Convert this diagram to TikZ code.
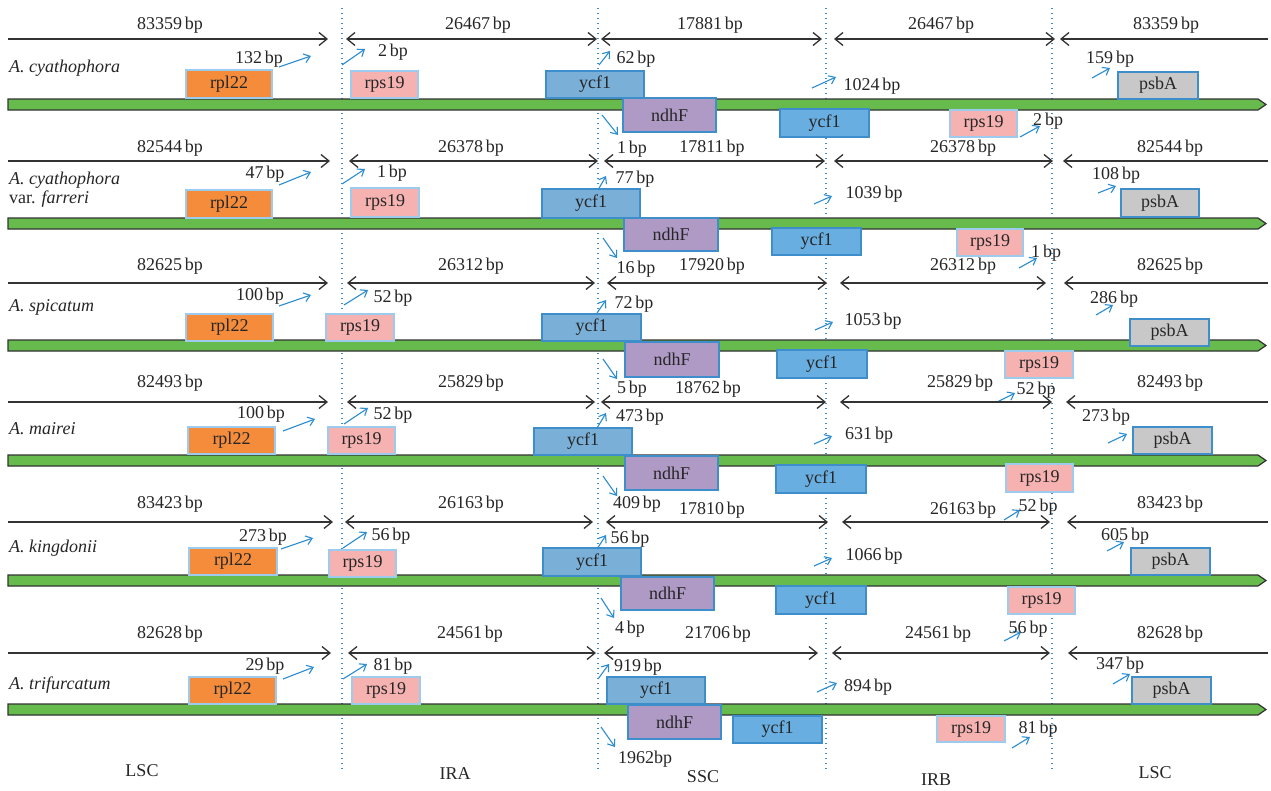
\documentclass[tikz,border=0pt]{standalone}
\usepackage{fontspec}
\setmainfont{Liberation Serif}
\usetikzlibrary{arrows.meta}
\definecolor{barg}{HTML}{66BB4C}
\definecolor{barline}{HTML}{333333}
\definecolor{orng}{HTML}{F58C3C}
\definecolor{pnk}{HTML}{F5B2B1}
\definecolor{ycfa}{HTML}{7AAFD7}
\definecolor{ycfb}{HTML}{69AEE0}
\definecolor{purp}{HTML}{AF9AC6}
\definecolor{gry}{HTML}{C8C8C8}
\definecolor{edgeA}{HTML}{9DCBEE}
\definecolor{edgeB}{HTML}{3D8ECB}
\definecolor{annblue}{HTML}{2B8CCF}
\definecolor{dotc}{HTML}{3D8ECB}
\newcommand\gn[7]{\node[gene,#2,minimum width={((#5)-(#3))*1pt},minimum height={((#6)-(#4))*1pt}] (#1) at ({((#3)+(#5))/2},{((#4)+(#6))/2}) {#7};}
\newcommand\seg[8]{\coordinate (#1a) at (#2,#4); \coordinate (#1b) at (#3,#4); \draw[segline,#5] (#1a) -- (#1b); \node[lbl] (#1l) at (#6,#7) {#8};}
\newcommand\ann[8]{\coordinate (#1s) at (#2,#3); \coordinate (#1e) at (#4,#5); \draw[annarrow] (#1s) -- (#1e); \node[lbl] (#1t) at (#6,#7) {#8};}
\newcommand\gbar[2]{\path[fill=barg,draw=barline,line width=1.2pt] (8,#2) -- (1258,#2) -- (1266,{#2+5.5}) -- (1258,{#2+11}) -- (8,{#2+11}) -- cycle; \coordinate (#1) at (8,#2);}
\begin{document}
\begin{tikzpicture}[x=1pt,y=-1pt,
  lbl/.style={inner sep=0pt,outer sep=0pt,font=\fontsize{18}{21}\selectfont,text=black!85},
  spname/.style={inner sep=0pt,anchor=west,font=\fontsize{18}{19}\selectfont,align=left,text=black!85},
  gene/.style={draw,line width=1.2pt,inner sep=0pt,outer sep=0pt,font=\fontsize{18}{20}\selectfont,text=black!85},
  grpl/.style={fill=orng,draw=edgeA},
  grps/.style={fill=pnk,draw=edgeA},
  gycfa/.style={fill=ycfa,draw=edgeB},
  gycfb/.style={fill=ycfb,draw=edgeB},
  gndh/.style={fill=purp,draw=edgeB},
  gpsb/.style={fill=gry,draw=edgeB},
  segline/.style={draw=barline,line width=1.3pt},
  tipR/.style={-{Straight Barb[length=8pt,width=13pt,line width=1.3pt]}},
  tipB/.style={{Straight Barb[length=8pt,width=13pt,line width=1.3pt]}-{Straight Barb[length=8pt,width=13pt,line width=1.3pt]}},
  tipL/.style={{Straight Barb[length=8pt,width=13pt,line width=1.3pt]}-},
  annarrow/.style={draw=annblue,line width=1.1pt,-{Straight Barb[length=6pt,width=9pt,line width=1.1pt]}},
  dotline/.style={draw=dotc,line width=1.3pt,dash pattern=on 1.3pt off 3.7pt}
]
\useasboundingbox[fill=white] (0,0) rectangle (1271,790);
% region dividers
\foreach \x/\n in {342/d1,598/d2,826/d3,1052/d4}{
  \coordinate (\n t) at (\x,8); \coordinate (\n b) at (\x,770);
  \draw[dotline] (\n t) -- (\n b);
}
% ================= Row 1
\gbar{bar1}{99}
\seg{s11}{8}{328}{39}{tipR}{170}{25}{83359\,bp}
\seg{s12}{346}{597}{39}{tipB}{478}{25}{26467\,bp}
\seg{s13}{601}{822}{39}{tipB}{710}{25}{17881\,bp}
\seg{s14}{834}{1055}{39}{tipB}{941}{25}{26467\,bp}
\seg{s15}{1268}{1060}{39}{tipR}{1166}{25}{83359\,bp}
\node[spname] (n1) at (9,68) {\textit{A. cyathophora}};
\gn{g11}{grpl}{186}{70}{272}{98}{rpl22}
\gn{g12}{grps}{351}{71}{418}{98}{rps19}
\gn{g13}{gycfa}{546}{71}{644}{98}{ycf1}
\gn{g14}{gndh}{623}{98}{716}{132}{ndhF}
\gn{g15}{gycfb}{780}{109}{869}{137}{ycf1}
\gn{g16}{grps}{950}{110}{1017}{137}{rps19}
\gn{g17}{gpsb}{1118}{72}{1198}{99}{psbA}
\ann{a11}{279}{67}{311}{56}{259}{59}{132\,bp}
\ann{a12}{342}{65}{365}{49}{393}{52}{2\,bp}
\ann{a13}{599}{65}{610}{51}{636}{59}{62\,bp}
\ann{a14}{602}{115}{618}{135}{632}{149}{1\,bp}
\ann{a15}{812}{88}{836}{77}{872}{86}{1024\,bp}
\ann{a16}{1020}{137}{1040}{126}{1048}{121}{2\,bp}
\ann{a17}{1092}{78}{1110}{68}{1110}{59}{159\,bp}
% ================= Row 2
\gbar{bar2}{218}
\seg{s21}{8}{330}{161}{tipR}{170}{148}{82544\,bp}
\seg{s22}{349}{598}{161}{tipB}{471}{148}{26378\,bp}
\seg{s23}{604}{825}{161}{tipB}{712}{148}{17811\,bp}
\seg{s24}{834}{1053}{161}{tipB}{963}{148}{26378\,bp}
\seg{s25}{1268}{1063}{161}{tipR}{1170}{148}{82544\,bp}
\node[spname] (n2) at (9,190) {\textit{A. cyathophora}\\var. \textit{farreri}};
\gn{g21}{grpl}{186}{190}{272}{218}{rpl22}
\gn{g22}{grps}{351}{188}{419}{217}{rps19}
\gn{g23}{gycfa}{542}{189}{640}{218}{ycf1}
\gn{g24}{gndh}{624}{218}{718}{251}{ndhF}
\gn{g25}{gycfb}{772}{228}{861}{255}{ycf1}
\gn{g26}{grps}{957}{229}{1023}{256}{rps19}
\gn{g27}{gpsb}{1121}{189}{1199}{217}{psbA}
\ann{a21}{279}{185}{311}{172}{265}{174}{47\,bp}
\ann{a22}{342}{184}{365}{169}{392}{173}{1\,bp}
\ann{a23}{598}{190}{606}{176}{635}{179}{77\,bp}
\ann{a24}{603}{238}{617}{258}{636}{269}{16\,bp}
\ann{a25}{814}{204}{832}{196}{874}{194}{1039\,bp}
\ann{a26}{1019}{268}{1037}{258}{1046}{253}{1\,bp}
\ann{a27}{1098}{193}{1116}{186}{1116}{175}{108\,bp}
% ================= Row 3
\gbar{bar3}{340}
\seg{s31}{8}{328}{283}{tipR}{170}{266}{82625\,bp}
\seg{s32}{347}{595}{283}{tipB}{471}{266}{26312\,bp}
\seg{s33}{607}{827}{283}{tipB}{712}{266}{17920\,bp}
\seg{s34}{840}{1046}{283}{tipB}{963}{266}{26312\,bp}
\seg{s35}{1268}{1064}{283}{tipR}{1170}{266}{82625\,bp}
\node[spname] (n3) at (9,307) {\textit{A. spicatum}};
\gn{g31}{grpl}{186}{314}{273}{341}{rpl22}
\gn{g32}{grps}{326}{314}{394}{341}{rps19}
\gn{g33}{gycfa}{542}{314}{641}{341}{ycf1}
\gn{g34}{gndh}{625}{342}{719}{377}{ndhF}
\gn{g35}{gycfb}{777}{350}{867}{378}{ycf1}
\gn{g36}{grps}{1005}{351}{1073}{378}{rps19}
\gn{g37}{gpsb}{1130}{319}{1209}{346}{psbA}
\ann{a31}{279}{306}{311}{295}{260}{296}{100\,bp}
\ann{a32}{344}{305}{368}{290}{393}{298}{52\,bp}
\ann{a33}{597}{313}{606}{300}{634}{304}{72\,bp}
\ann{a34}{603}{359}{617}{379}{632}{389}{5\,bp}
\ann{a35}{815}{330}{833}{322}{873}{321}{1053\,bp}
\ann{a36}{997}{402}{1015}{393}{1036}{390}{52\,bp}
\ann{a37}{1096}{315}{1113}{305}{1114}{299}{286\,bp}
% ================= Row 4
\gbar{bar4}{455}
\seg{s41}{8}{328}{402}{tipR}{170}{383}{82493\,bp}
\seg{s42}{347}{595}{402}{tipB}{471}{383}{25829\,bp}
\seg{s43}{601}{826}{402}{tipB}{708}{389}{18762\,bp}
\seg{s44}{840}{1052}{402}{tipB}{960}{383}{25829\,bp}
\seg{s45}{1268}{1066}{402}{tipR}{1170}{383}{82493\,bp}
\node[spname] (n4) at (9,429) {\textit{A. mairei}};
\gn{g41}{grpl}{188}{427}{275}{454}{rpl22}
\gn{g42}{grps}{328}{427}{395}{454}{rps19}
\gn{g43}{gycfa}{534}{428}{632}{455}{ycf1}
\gn{g44}{gndh}{625}{456}{718}{490}{ndhF}
\gn{g45}{gycfb}{776}{465}{866}{493}{ycf1}
\gn{g46}{grps}{1006}{464}{1073}{492}{rps19}
\gn{g47}{gpsb}{1133}{427}{1212}{454}{psbA}
\ann{a41}{283}{431}{315}{419}{261}{414}{100\,bp}
\ann{a42}{344}{424}{368}{408}{393}{415}{52\,bp}
\ann{a43}{597}{428}{606}{413}{640}{417}{473\,bp}
\ann{a44}{603}{476}{617}{496}{637}{504}{409\,bp}
\ann{a45}{814}{444}{832}{436}{869}{435}{631\,bp}
\ann{a46}{1004}{520}{1020}{510}{1038}{507}{52\,bp}
\ann{a47}{1108}{443}{1127}{434}{1106}{417}{273\,bp}
% ================= Row 5
\gbar{bar5}{575}
\seg{s51}{8}{333}{522}{tipR}{170}{504}{83423\,bp}
\seg{s52}{345}{593}{522}{tipB}{471}{504}{26163\,bp}
\seg{s53}{606}{828}{522}{tipB}{712}{510}{17810\,bp}
\seg{s54}{842}{1050}{522}{tipB}{963}{510}{26163\,bp}
\seg{s55}{1268}{1067}{522}{tipR}{1170}{504}{83423\,bp}
\node[spname] (n5) at (9,548) {\textit{A. kingdonii}};
\gn{g51}{grpl}{189}{548}{277}{575}{rpl22}
\gn{g52}{grps}{329}{550}{396}{577}{rps19}
\gn{g53}{gycfa}{543}{548}{641}{576}{ycf1}
\gn{g54}{gndh}{621}{577}{714}{610}{ndhF}
\gn{g55}{gycfb}{776}{586}{866}{614}{ycf1}
\gn{g56}{grps}{1008}{587}{1075}{614}{rps19}
\gn{g57}{gpsb}{1131}{548}{1210}{575}{psbA}
\ann{a51}{281}{549}{313}{538}{263}{537}{273\,bp}
\ann{a52}{343}{548}{367}{532}{391}{536}{56\,bp}
\ann{a53}{597}{549}{606}{535}{630}{539}{56\,bp}
\ann{a54}{601}{598}{614}{618}{630}{629}{4\,bp}
\ann{a55}{814}{566}{832}{558}{874}{556}{1066\,bp}
\ann{a56}{1004}{641}{1021}{632}{1028}{629}{56\,bp}
\ann{a57}{1107}{551}{1124}{542}{1125}{536}{605\,bp}
% ================= Row 6
\gbar{bar6}{704}
\seg{s61}{8}{331}{653}{tipR}{170}{634}{82628\,bp}
\seg{s62}{348}{596}{653}{tipB}{470}{634}{24561\,bp}
\seg{s63}{604}{818}{653}{tipB}{718}{634}{21706\,bp}
\seg{s64}{832}{1050}{653}{tipB}{938}{634}{24561\,bp}
\seg{s65}{1268}{1068}{653}{tipR}{1170}{634}{82628\,bp}
\node[spname] (n6) at (9,685) {\textit{A. trifurcatum}};
\gn{g61}{grpl}{189}{677}{276}{704}{rpl22}
\gn{g62}{grps}{352}{677}{420}{704}{rps19}
\gn{g63}{gycfa}{607}{677}{705}{704}{ycf1}
\gn{g64}{gndh}{628}{705}{721}{739}{ndhF}
\gn{g65}{gycfb}{733}{716}{822}{743}{ycf1}
\gn{g66}{grps}{937}{716}{1005}{742}{rps19}
\gn{g67}{gpsb}{1132}{677}{1211}{704}{psbA}
\ann{a61}{283}{679}{314}{667}{265}{666}{29\,bp}
\ann{a62}{343}{679}{367}{664}{393}{666}{81\,bp}
\ann{a63}{598}{679}{609}{664}{638}{667}{919\,bp}
\ann{a64}{601}{727}{615}{747}{645}{759}{1962bp}
\ann{a65}{817}{692}{837}{683}{868}{687}{894\,bp}
\ann{a66}{1012}{748}{1030}{737}{1038}{729}{81\,bp}
\ann{a67}{1113}{684}{1130}{674}{1120}{665}{347\,bp}
% region names
\node[lbl] (rl1) at (142,771) {LSC};
\node[lbl] (rl2) at (455,774) {IRA};
\node[lbl] (rl3) at (703,777) {SSC};
\node[lbl] (rl4) at (936,780) {IRB};
\node[lbl] (rl5) at (1155,773) {LSC};
\end{tikzpicture}
\end{document}
